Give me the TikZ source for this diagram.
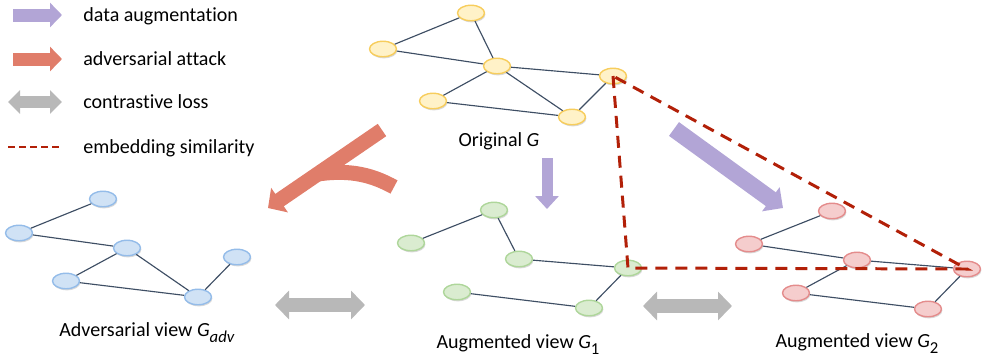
\documentclass[tikz,border=0pt]{standalone}
\usepackage{fontspec}
\setmainfont{Carlito}[Ligatures=NoCommon]
\usetikzlibrary{shapes.geometric, arrows.meta, shadows}

\definecolor{augpurple}{RGB}{178, 165, 214}
\definecolor{attackred}{RGB}{224, 125, 106}
\definecolor{lossgray}{RGB}{184, 184, 184}
\definecolor{simred}{RGB}{178, 32, 8}
\definecolor{linkcol}{RGB}{62, 78, 100}
\definecolor{origfill}{RGB}{255, 242, 200}
\definecolor{origdraw}{RGB}{247, 205, 92}
\definecolor{advfill}{RGB}{208, 226, 245}
\definecolor{advdraw}{RGB}{148, 188, 233}
\definecolor{augfill}{RGB}{218, 236, 208}
\definecolor{augdraw}{RGB}{174, 214, 154}
\definecolor{augbfill}{RGB}{245, 205, 205}
\definecolor{augbdraw}{RGB}{228, 140, 140}

\newcommand{\viewsub}[1]{\raisebox{-3.6pt}{\fontsize{9.5pt}{10pt}\selectfont #1}}

\tikzset{
  vert/.style={ellipse, minimum width=5.4mm, minimum height=3.1mm, inner sep=0pt, line width=0.8pt,
    drop shadow={shadow xshift=0.5pt, shadow yshift=-0.9pt, opacity=0.25, fill=black!60}},
  orignode/.style={vert, draw=origdraw, fill=origfill},
  advnode/.style={vert, draw=advdraw, fill=advfill},
  augnode/.style={vert, draw=augdraw, fill=augfill},
  augbnode/.style={vert, draw=augbdraw, fill=augbfill},
  link/.style={draw=linkcol, line width=0.65pt},
  legtext/.style={anchor=base west, inner sep=0pt},
  viewlabel/.style={anchor=base, inner sep=0pt},
  simline/.style={draw=simred, line width=1.7pt, dash pattern=on 2.4mm off 1.6mm},
}

\begin{document}
\begin{tikzpicture}[x=0.2mm, y=-0.2mm, font=\fontsize{11.4pt}{13pt}\selectfont]
  \useasboundingbox (0,0) rectangle (982,362);

  % Legend
  \coordinate (lauga) at (13,15);  \coordinate (laugb) at (62,15);
  \coordinate (latta) at (13,59);  \coordinate (lattb) at (62,59);
  \coordinate (lcona) at (8,102);  \coordinate (lconb) at (62,102);
  \coordinate (lsima) at (8,147);  \coordinate (lsimb) at (62,147);
  \draw[augpurple, line width=2.6mm, -{Triangle[length=2.4mm, width=4.8mm]}] (lauga) -- (laugb);
  \draw[attackred, line width=2.6mm, -{Triangle[length=2.4mm, width=4.8mm]}] (latta) -- (lattb);
  \draw[lossgray, line width=2.4mm, {Triangle[length=2.4mm, width=4.6mm]}-{Triangle[length=2.4mm, width=4.6mm]}] (lcona) -- (lconb);
  \draw[simred, line width=0.35mm, dash pattern=on 1.4mm off 0.8mm] (lsima) -- (lsimb);
  \node[legtext] (taug) at (83,21) {data augmentation};
  \node[legtext] (tatt) at (83,65) {adversarial attack};
  \node[legtext] (tcon) at (83,108) {contrastive loss};
  \node[legtext] (tsim) at (83,153) {embedding similarity};

  % Original graph
  \node[orignode] (o1) at (471,13) {};
  \node[orignode] (o2) at (383,49) {};
  \node[orignode] (o3) at (497,66) {};
  \node[orignode] (o4) at (613,76) {};
  \node[orignode] (o5) at (433,101) {};
  \node[orignode] (o6) at (572,117) {};
  \draw[link] (o2) -- (o1);
  \draw[link] (o1) -- (o3);
  \draw[link] (o2) -- (o3);
  \draw[link] (o3) -- (o4);
  \draw[link] (o3) -- (o5);
  \draw[link] (o3) -- (o6);
  \draw[link] (o5) -- (o6);
  \draw[link] (o6) -- (o4);
  \node[viewlabel] (lorig) at (499,146) {Original \textit{G}};

  % Adversarial view
  \node[advnode] (a1) at (103,199) {};
  \node[advnode] (a2) at (19,233) {};
  \node[advnode] (a3) at (127,248) {};
  \node[advnode] (a4) at (237,257) {};
  \node[advnode] (a5) at (66,281) {};
  \node[advnode] (a6) at (198,297) {};
  \draw[link] (a1) -- (a2);
  \draw[link] (a2) -- (a3);
  \draw[link] (a3) -- (a5);
  \draw[link] (a3) -- (a6);
  \draw[link] (a5) -- (a6);
  \draw[link] (a6) -- (a4);
  \node[viewlabel] (ladv) at (147,336) {Adversarial view \textit{G}\viewsub{\textit{adv}}};

  % Augmented view 1
  \node[augnode] (g1) at (494,210) {};
  \node[augnode] (g2) at (411,243) {};
  \node[augnode] (g3) at (519,259) {};
  \node[augnode] (g4) at (628,268) {};
  \node[augnode] (g5) at (457,292) {};
  \node[augnode] (g6) at (589,308) {};
  \draw[link] (g1) -- (g2);
  \draw[link] (g1) -- (g3);
  \draw[link] (g3) -- (g4);
  \draw[link] (g4) -- (g6);
  \draw[link] (g5) -- (g6);
  \node[viewlabel] (laug) at (518,348) {Augmented view \textit{G}\viewsub{1}};

  % Augmented view 2
  \node[augbnode] (h1) at (832,211) {};
  \node[augbnode] (h2) at (749,244) {};
  \node[augbnode] (h3) at (857,260) {};
  \node[augbnode] (h4) at (967,269) {};
  \node[augbnode] (h5) at (796,293) {};
  \node[augbnode] (h6) at (928,309) {};
  \draw[link] (h1) -- (h2);
  \draw[link] (h2) -- (h3);
  \draw[link] (h3) -- (h4);
  \draw[link] (h3) -- (h5);
  \draw[link] (h5) -- (h6);
  \draw[link] (h6) -- (h4);
  \node[viewlabel] (laugb) at (857,347) {Augmented view \textit{G}\viewsub{2}};

  % Embedding similarity
  \draw[simline] (o4.center) -- (g4.center) -- (h4.center) -- cycle;

  % Augmentation arrows
  \coordinate (dwna) at (547,158); \coordinate (dwnb) at (547,209);
  \coordinate (diaa) at (674,129); \coordinate (diab) at (783,208);
  \draw[augpurple, line width=2.2mm, -{Triangle[length=2.6mm, width=4.6mm]}] (dwna) -- (dwnb);
  \draw[augpurple, line width=3.4mm, -{Triangle[length=3mm, width=5.8mm]}] (diaa) -- (diab);

  % Attack arrow
  \coordinate (atka) at (382,130); \coordinate (atkb) at (268,208);
  \coordinate (brna) at (394,187); \coordinate (brnb) at (318,174);
  \draw[attackred, line width=3mm] (brna) .. controls (374,176) and (352,169) .. (brnb);
  \draw[attackred, line width=3mm, -{Triangle[length=2.8mm, width=5.8mm]}] (atka) -- (atkb);

  % Contrastive loss arrows
  \coordinate (cla) at (275,305); \coordinate (clb) at (365,305);
  \coordinate (clc) at (643,306); \coordinate (cld) at (732,306);
  \draw[lossgray, line width=2.8mm, {Triangle[length=2.8mm, width=5.6mm]}-{Triangle[length=2.8mm, width=5.6mm]}] (cla) -- (clb);
  \draw[lossgray, line width=2.8mm, {Triangle[length=2.8mm, width=5.6mm]}-{Triangle[length=2.8mm, width=5.6mm]}] (clc) -- (cld);
\end{tikzpicture}
\end{document}
